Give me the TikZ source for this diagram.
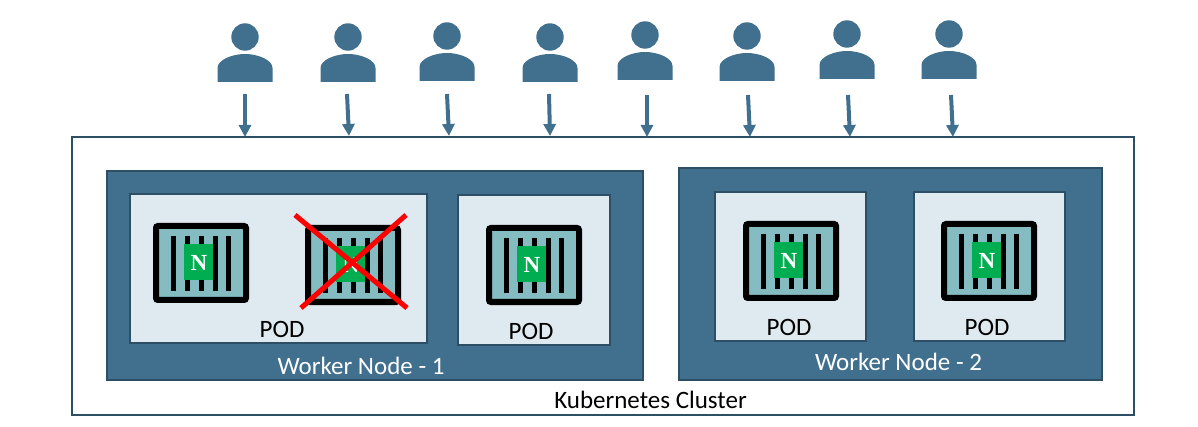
\documentclass[tikz,border=0pt]{standalone}
\usepackage{fontspec}
\setmainfont{Carlito}
\newfontfamily\nfont{Liberation Serif}
\definecolor{steel}{HTML}{41708F}
\definecolor{edgeblue}{HTML}{2C4F66}
\definecolor{podfill}{HTML}{DFE9F0}
\definecolor{teal}{HTML}{85BCC2}
\definecolor{ngreen}{HTML}{00AD50}
\usetikzlibrary{arrows.meta}
\tikzset{
  every node/.style={inner sep=0pt,outer sep=0pt},
  cluster/.style={draw=edgeblue,line width=1.4pt,fill=white},
  worker/.style={draw=edgeblue,line width=1.2pt,fill=steel},
  podbox/.style={draw=edgeblue,line width=1.2pt,fill=podfill},
  label/.style={font=\fontsize{25}{28}\selectfont,text=black},
  wlabel/.style={font=\fontsize{25}{28}\selectfont,text=white},
  usr/.style={fill=steel,draw=none},
  flow/.style={draw=steel,line width=4pt,-{Triangle[length=12pt,width=12pt]}},
  crate/.style={draw=black,line width=6pt,fill=teal,rounded corners=2pt},
  slat/.style={draw=black,line width=5pt},
  cross/.style={draw=red,line width=5pt},
  nbadge/.style={fill=ngreen,draw=none},
  nletter/.style={font=\nfont\bfseries\fontsize{23}{23}\selectfont,text=white},
}
% person: #1 name, #2 x centre, #3 y of body bottom
\newcommand{\person}[3]{%
  \begin{scope}[shift={(#2,#3)}]
    \fill[usr] (0,-45) circle (13.7);
    \fill[usr] (-27.5,0) -- (-27.5,-14) .. controls (-27.5,-22) and (-13,-28) .. (0,-28)
       .. controls (13,-28) and (27.5,-22) .. (27.5,-14) -- (27.5,0) -- cycle;
    \coordinate (#1) at (0,0);
  \end{scope}}
% crate: #1 left x, #2 top y, #3 name
\newcommand{\crate}[3]{%
  \begin{scope}[shift={(#1,#2)}]
    \draw[crate] (3,3) rectangle (93,77);
    \foreach \sx in {20,34,48,62,75} \draw[slat] (\sx,13) -- (\sx,68);
    \node[nbadge,minimum width=29pt,minimum height=36pt] (#3) at (45.5,39) {};
    \node[nletter] (#3t) at (46,39.5) {N};
  \end{scope}}
\begin{document}
\begin{tikzpicture}[x=1pt,y=-1pt]
\useasboundingbox (0,0) rectangle (1198,427);
\node[cluster,minimum width=1062pt,minimum height=278pt,anchor=north west] (cl) at (72,137) {};
\node[worker,minimum width=536pt,minimum height=209pt,anchor=north west] (w1) at (107,171) {};
\node[worker,minimum width=423pt,minimum height=212pt,anchor=north west] (w2) at (679,168) {};
\node[podbox,minimum width=297pt,minimum height=149pt,anchor=north west] (p1) at (130,194) {};
\node[podbox,minimum width=152pt,minimum height=150pt,anchor=north west] (p2) at (458,195) {};
\node[podbox,minimum width=151pt,minimum height=149pt,anchor=north west] (p3) at (715,192) {};
\node[podbox,minimum width=151pt,minimum height=149pt,anchor=north west] (p4) at (914,192) {};
\crate{153}{223}{c1}
\crate{305}{225}{c2}
\crate{486}{225}{c3}
\crate{743}{221}{c4}
\crate{941}{221}{c5}
\coordinate (x1) at (295,215); \coordinate (x2) at (407,308);
\coordinate (x3) at (406,215); \coordinate (x4) at (301,308);
\draw[cross] (x1) -- (x2);
\draw[cross] (x3) -- (x4);
\node[label] (t1) at (282,329) {POD};
\node[label] (t2) at (531,331) {POD};
\node[label] (t3) at (789,327) {POD};
\node[label] (t4) at (987,327) {POD};
\node[wlabel] (t5) at (361,366) {Worker Node - 1};
\node[wlabel] (t6) at (898.5,362) {Worker Node - 2};
\node[label] (t7) at (650.5,400) {Kubernetes Cluster};
\person{u1}{245}{82}
\person{u2}{348}{82}
\person{u3}{447}{81}
\person{u4}{550}{82}
\person{u5}{645}{80}
\person{u6}{747}{81}
\person{u7}{847}{79}
\person{u8}{949}{79}
\foreach \i/\xa/\ya/\xb/\yb in {1/245/94/245/137,2/347/94/349/136,3/447/94/449/136,4/549/94/550/136,5/647/95/647/137,6/748/95/750/137,7/848/95/850/137,8/951/95/953/137}{
  \coordinate (a\i) at (\xa,\ya);
  \coordinate (b\i) at (\xb,\yb);
  \draw[flow] (a\i) -- (b\i);
}
\end{tikzpicture}
\end{document}
